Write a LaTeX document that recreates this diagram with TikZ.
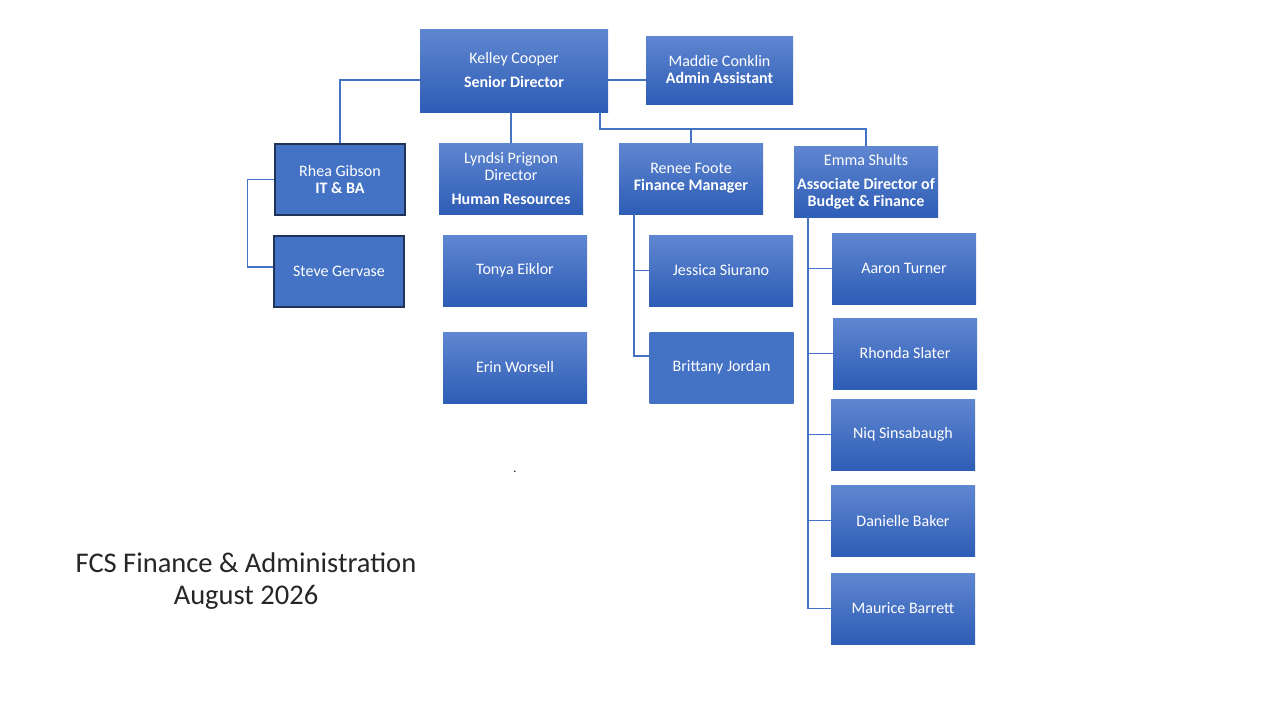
\documentclass[tikz,border=0pt]{standalone}
\usepackage{fontspec}
\setmainfont{Carlito}
\definecolor{boxtop}{HTML}{5F86D0}
\definecolor{boxbot}{HTML}{2E5DB6}
\definecolor{boxflat}{HTML}{4472C4}
\definecolor{boxedge}{HTML}{1F3458}
\definecolor{linkblue}{HTML}{4472C4}

\begin{document}
\begin{tikzpicture}[x=1pt,y=-1pt,
  box/.style={rectangle, minimum width=144pt, minimum height=71pt, inner sep=0pt,
    top color=boxtop, bottom color=boxbot, text=white, align=center,
    font=\fontsize{16}{17}\selectfont},
  flatbox/.style={box, top color=boxflat, bottom color=boxflat},
  edgebox/.style={flatbox, draw=boxedge, line width=1.2pt, minimum width=130pt},
  link/.style={draw=linkblue, line width=1.2pt}]
\useasboundingbox (0,0) rectangle (1280,720);
\node [box, minimum width=188pt, minimum height=83pt] (kelley) at (514,70.5) {Kelley Cooper\\[7pt]\textbf{Senior Director}};
\node [box, minimum width=147pt, minimum height=68pt] (maddie) at (719.5,70) {Maddie Conklin\\\textbf{Admin Assistant}};
\node [edgebox] (rhea) at (340,179.5) {Rhea Gibson\\\textbf{IT \& BA}};
\node [edgebox] (steve) at (339,271.5) {Steve Gervase};
\node [box] (lyndsi) at (511,178.5) {Lyndsi Prignon\\Director\\[7pt]\textbf{Human Resources}};
\node [box] (tonya) at (515,270.5) {Tonya Eiklor};
\node [box] (erin) at (515,367.5) {Erin Worsell};
\node [box] (renee) at (691,178.5) {Renee Foote\\\textbf{Finance Manager}};
\node [box] (jessica) at (721,270.5) {Jessica Siurano};
\node [flatbox] (brittany) at (721.5,367.5) {Brittany Jordan};
\node [box] (emma) at (866,181.5) {Emma Shults\\[7pt]\textbf{Associate Director of}\\\textbf{Budget \& Finance}};
\node [box] (aaron) at (904,268.5) {Aaron Turner};
\node [box] (rhonda) at (905,353.5) {Rhonda Slater};
\node [box] (niq) at (903,434.5) {Niq Sinsabaugh};
\node [box] (danielle) at (903,520.5) {Danielle Baker};
\node [box] (maurice) at (903,608.5) {Maurice Barrett};
\node [font=\fontsize{12}{12}\selectfont] (dot) at (515,472) {.};
\node [align=center, text=black!85, font=\fontsize{28.5}{32}\selectfont] (title) at (246,581) {FCS Finance \& Administration\\August 2026};
\coordinate (fork) at (600,129);
\coordinate (fcsspine) at (634,0);
\coordinate (bfspine) at (808,0);
\draw [link] ([yshift=-9.5pt]kelley.west) -| (rhea.north);
\draw [link] ([yshift=-9.5pt]kelley.east) -- ([yshift=-10pt]maddie.west);
\draw [link] (lyndsi.north |- kelley.south) -- (lyndsi.north);
\draw [link] (kelley.south -| fork) -- (fork) -| (emma.north);
\draw [link] (fork -| renee.north) -- (renee.north);
\draw [link] (rhea.west) -- ++(-27,0) |- ([yshift=4.5pt]steve.west);
\draw [link] (renee.south -| fcsspine) |- (jessica.west);
\draw [link] (renee.south -| fcsspine) |- ([yshift=11.5pt]brittany.west);
\draw [link] (emma.south -| bfspine) |- (maurice.west);
\foreach \n in {aaron, rhonda, niq, danielle}
  \draw [link] (\n.west -| bfspine) -- (\n.west);
\end{tikzpicture}
\end{document}
